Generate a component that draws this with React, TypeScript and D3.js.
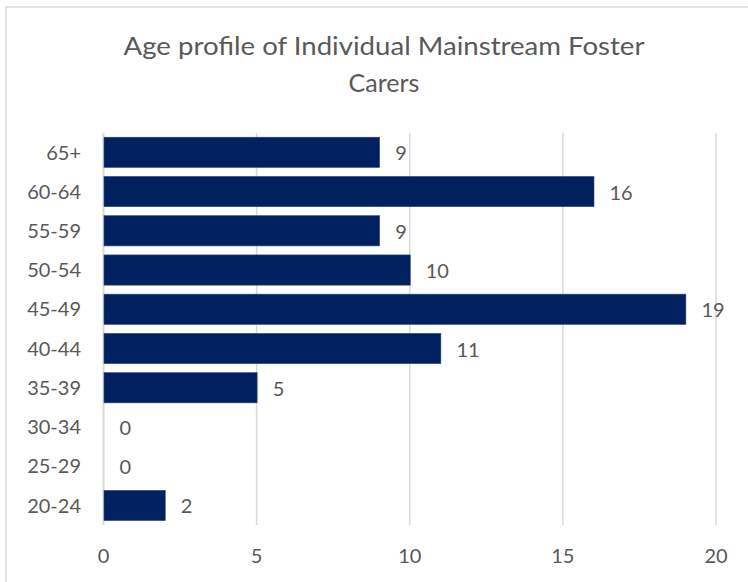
import React from "react";
import * as d3 from "d3";

const categories = ["65+", "60-64", "55-59", "50-54", "45-49", "40-44", "35-39", "30-34", "25-29", "20-24"];
const values = [9, 16, 9, 10, 19, 11, 5, 0, 0, 2];
const xTicks = [0, 5, 10, 15, 20];
const titleLines = ["Age profile of Individual Mainstream Foster", "Carers"];

const W = 748;
const H = 582;
const FONT = "Lato, 'Open Sans', sans-serif";
const TEXT = "#595959";
const GRID = "#d9d9d9";
const BAR = "#002060";

export default function App() {
  const x = d3.scaleLinear().domain([0, 20]).range([103.5, 716]);
  const y = d3
    .scaleBand<string>()
    .domain(categories)
    .range([132.7, 525.1])
    .paddingInner(0.23)
    .paddingOuter(0.115);

  return (
    <svg
      width={W}
      height={H}
      style={{ position: "absolute", left: 0, top: 0, background: "#fff" }}
      fontFamily={FONT}
    >
      <rect x={0} y={0} width={W} height={H} fill="#fff" />
      <rect x={6} y={7} width={756} height={700} fill="#fff" stroke={GRID} strokeWidth={1.5} />
      <text x={384} y={55} textAnchor="middle" fontSize={25} fill={TEXT} textLength={521} lengthAdjust="spacingAndGlyphs">
        {titleLines[0]}
      </text>
      <text x={384} y={92} textAnchor="middle" fontSize={25} fill={TEXT}>
        {titleLines[1]}
      </text>
      {xTicks.map((t) => (
        <g key={t}>
          <line x1={x(t)} x2={x(t)} y1={132.7} y2={525} stroke={GRID} strokeWidth={t === 0 ? 2 : 1.5} />
          <text x={x(t)} y={563} textAnchor="middle" fontSize={20} fill={TEXT}>
            {t}
          </text>
        </g>
      ))}
      {categories.map((c, i) => {
        const by = y(c)!;
        const bh = y.bandwidth();
        const cy = by + bh / 2;
        return (
          <g key={c}>
            {values[i] > 0 && (
              <rect x={x(0) + 0.5} y={by} width={x(values[i]) - x(0)} height={bh} fill={BAR} stroke="#2a4a80" strokeWidth={0.6} />
            )}
            <text x={81} y={cy} dy="0.36em" textAnchor="end" fontSize={20} fill={TEXT}>
              {c}
            </text>
            <text x={x(values[i]) + 16} y={cy} dy="0.4em" textAnchor="start" fontSize={20} fill={TEXT}>
              {values[i]}
            </text>
          </g>
        );
      })}
    </svg>
  );
}
